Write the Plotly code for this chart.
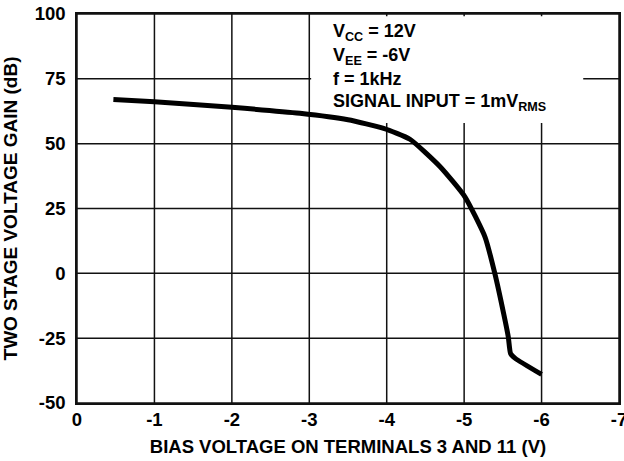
import plotly.graph_objects as go

# Data
bias_v = [-0.47, -1.0, -2.0, -2.88, -3.5, -3.96, -4.3, -4.69, -5.01, -5.27, -5.40, -5.51, -5.57, -5.60, -5.66, -6.0]
gain_db = [67.0, 66.2, 64.0, 61.7, 59.2, 55.9, 51.7, 41.1, 29.5, 14.0, -0.5, -15.5, -24.5, -31.0, -32.8, -39.0]

x_ticks = [0, -1, -2, -3, -4, -5, -6, -7]
y_ticks = [-50, -25, 0, 25, 50, 75, 100]

note_lines = [
    "V<sub>CC</sub> = 12V",
    "V<sub>EE</sub> = -6V",
    "f = 1kHz",
    "SIGNAL INPUT = 1mV<sub>RMS</sub>",
]

FONT = "Liberation Sans, Arial, sans-serif"
GRID = dict(color="#111", width=1.5)

fig = go.Figure()
fig.add_trace(go.Scatter(x=bias_v, y=gain_db, mode="lines",
                         line=dict(color="black", width=5, shape="spline", smoothing=0.5),
                         showlegend=False, hoverinfo="skip"))

fig.update_layout(
    width=624, height=461,
    margin=dict(l=77, r=5, t=14, b=58),
    plot_bgcolor="white", paper_bgcolor="white",
    font=dict(family=FONT, size=18, color="black", weight="bold"),
    xaxis=dict(range=[0, -7], tickvals=x_ticks, ticktext=[str(v) for v in x_ticks],
               showgrid=False, zeroline=False, automargin=False,
               showline=True, linecolor="#111", linewidth=1.5, mirror=True,
               ticks="", ticklabelstandoff=-1, tickfont=dict(size=18.5),
               ticklabeloverflow="allow",
               title=dict(text="BIAS VOLTAGE ON TERMINALS 3 AND 11 (V)", standoff=11,
                          font=dict(size=18.5, family=FONT, weight="bold"))),
    yaxis=dict(range=[-50, 100], tickvals=y_ticks, ticktext=[str(v) for v in y_ticks],
               showgrid=False, zeroline=False, automargin=False,
               showline=True, linecolor="#111", linewidth=1.5, mirror=True,
               ticks="", ticklabelstandoff=6, tickfont=dict(size=18.5),
               title=dict(text="TWO STAGE VOLTAGE GAIN (dB)", standoff=15,
                          font=dict(size=19, family=FONT, weight="bold"))),
)

# grid lines drawn as shapes (below the data), at the tick values
for v in x_ticks:
    fig.add_shape(type="line", xref="x", yref="y domain", x0=v, x1=v, y0=0, y1=1,
                  line=GRID, layer="below")
for v in y_ticks:
    fig.add_shape(type="line", xref="x domain", yref="y", x0=0, x1=1, y0=v, y1=v,
                  line=GRID, layer="below")

# white box behind the conditions text (covers grid, not the curve)
fig.add_shape(type="rect", xref="paper", yref="paper", x0=0.432, x1=0.934, y0=0.72, y1=0.994,
              fillcolor="white", line=dict(width=0), layer="below")

ys = [0.952, 0.892, 0.834, 0.772]
for txt, yy in zip(note_lines, ys):
    fig.add_annotation(xref="paper", yref="paper", x=0.468, y=yy, text=txt, showarrow=False,
                       xanchor="left", yanchor="middle",
                       font=dict(family=FONT, size=18, color="black", weight="bold"))

fig.write_html("out.html", config={"displayModeBar": False},
               post_script="document.body.style.margin='0';")
